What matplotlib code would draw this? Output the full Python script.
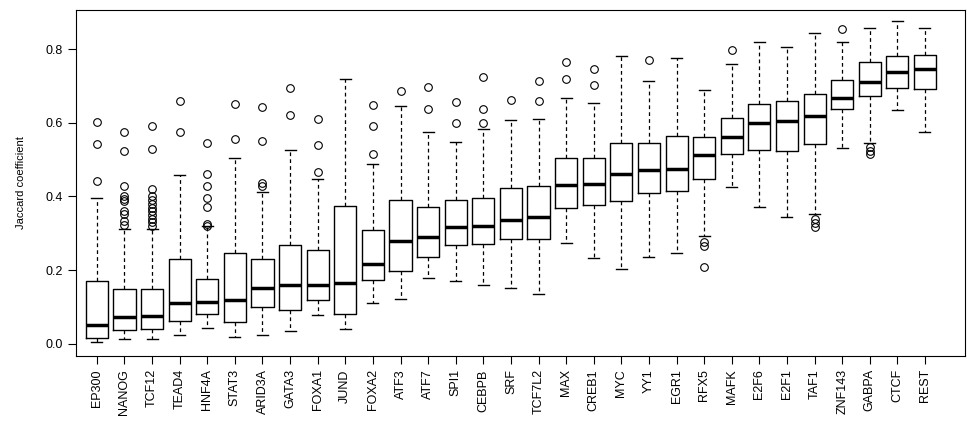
import matplotlib
matplotlib.use("Agg")
import matplotlib.pyplot as plt

plt.rcParams["font.family"] = ["Liberation Sans", "DejaVu Sans"]

names = ["EP300", "NANOG", "TCF12", "TEAD4", "HNF4A", "STAT3", "ARID3A", "GATA3",
         "FOXA1", "JUND", "FOXA2", "ATF3", "ATF7", "SPI1", "CEBPB", "SRF", "TCF7L2",
         "MAX", "CREB1", "MYC", "YY1", "EGR1", "RFX5", "MAFK", "E2F6", "E2F1", "TAF1",
         "ZNF143", "GABPA", "CTCF", "REST"]
# whisker low, q1, median, q3, whisker high
whislo = [0.005, 0.013, 0.014, 0.024, 0.043, 0.019, 0.024, 0.035, 0.077, 0.041, 0.111,
          0.122, 0.178, 0.170, 0.161, 0.152, 0.136, 0.275, 0.232, 0.204, 0.236, 0.247,
          0.293, 0.426, 0.372, 0.343, 0.353, 0.531, 0.545, 0.635, 0.576]
q1 = [0.016, 0.037, 0.039, 0.063, 0.082, 0.059, 0.099, 0.092, 0.120, 0.081, 0.174,
      0.199, 0.235, 0.269, 0.272, 0.285, 0.285, 0.369, 0.376, 0.389, 0.409, 0.415,
      0.446, 0.514, 0.526, 0.524, 0.543, 0.636, 0.672, 0.695, 0.692]
med = [0.050, 0.074, 0.076, 0.110, 0.113, 0.118, 0.152, 0.160, 0.161, 0.166, 0.216,
       0.279, 0.289, 0.316, 0.319, 0.335, 0.345, 0.431, 0.433, 0.460, 0.472, 0.474,
       0.513, 0.560, 0.599, 0.604, 0.619, 0.667, 0.711, 0.737, 0.747]
q3 = [0.170, 0.148, 0.148, 0.231, 0.177, 0.246, 0.229, 0.267, 0.255, 0.375, 0.309,
      0.391, 0.371, 0.391, 0.396, 0.423, 0.429, 0.505, 0.505, 0.546, 0.546, 0.564,
      0.562, 0.613, 0.652, 0.658, 0.679, 0.717, 0.764, 0.780, 0.783]
whishi = [0.397, 0.311, 0.311, 0.458, 0.320, 0.503, 0.413, 0.525, 0.446, 0.718, 0.487,
          0.645, 0.576, 0.549, 0.583, 0.607, 0.609, 0.668, 0.653, 0.781, 0.712, 0.775,
          0.689, 0.760, 0.819, 0.805, 0.844, 0.819, 0.857, 0.875, 0.857]
fliers = [
    [0.442, 0.543, 0.603],
    [0.322, 0.333, 0.352, 0.360, 0.388, 0.394, 0.401, 0.428, 0.524, 0.575],
    [0.320, 0.330, 0.340, 0.350, 0.360, 0.370, 0.380, 0.390, 0.400, 0.420, 0.530, 0.590],
    [0.575, 0.660],
    [0.320, 0.325, 0.372, 0.395, 0.428, 0.460, 0.545],
    [0.557, 0.650],
    [0.428, 0.437, 0.550, 0.644],
    [0.622, 0.695],
    [0.465, 0.540, 0.610],
    [],
    [0.515, 0.590, 0.648],
    [0.686],
    [0.636, 0.697],
    [0.598, 0.655],
    [0.598, 0.637, 0.725],
    [0.662],
    [0.660, 0.713],
    [0.720, 0.765],
    [0.702, 0.745],
    [],
    [0.770],
    [],
    [0.276, 0.265, 0.208],
    [0.798],
    [],
    [],
    [0.340, 0.328, 0.317],
    [0.855],
    [0.535, 0.524, 0.515],
    [],
    [],
]

stats = [dict(label=n, whislo=a, q1=b, med=c, q3=d, whishi=e, fliers=f)
         for n, a, b, c, d, e, f in zip(names, whislo, q1, med, q3, whishi, fliers)]

fig = plt.figure(figsize=(9.67, 4.23), dpi=100)
ax = fig.add_axes([76 / 967, 67 / 423, 889 / 967, 346 / 423])
ax.bxp(stats, widths=0.8,
       boxprops=dict(color="black", lw=1),
       medianprops=dict(color="black", lw=2.5, solid_capstyle="butt"),
       whiskerprops=dict(color="black", lw=0.9, ls=(0, (3, 2.5))),
       capprops=dict(color="black", lw=1),
       capwidths=0.4,
       flierprops=dict(marker="o", markerfacecolor="none", markeredgecolor="black",
                       markersize=5.5, markeredgewidth=0.8))
ax.set_xlim(0.244, 32.45)
ax.set_ylim(-0.033, 0.906)
ax.set_yticks([0.0, 0.2, 0.4, 0.6, 0.8])
ax.set_yticklabels(["0.0", "0.2", "0.4", "0.6", "0.8"])
ax.tick_params(axis="both", direction="out", length=6, labelsize=9)
ax.tick_params(axis="x", labelrotation=90)
ax.set_ylabel("Jaccard coefficient", fontsize=8, labelpad=14)
for s in ax.spines.values():
    s.set_linewidth(0.8)
fig.savefig("out.png", dpi=100)
